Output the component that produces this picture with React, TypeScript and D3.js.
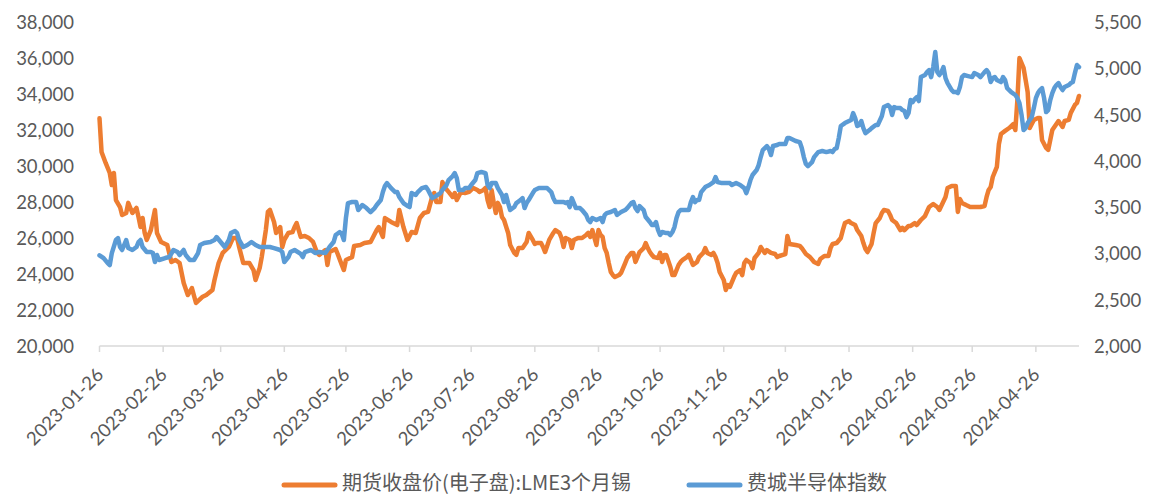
import React from 'react';
import * as d3 from 'd3';

// ---------- data ----------
const START_DATE = '2023-01-26';
const END_DATE = '2024-05-17';

// day offsets from START_DATE and values for LME 3-month tin (left axis)
const tinDays = [0,1,3,5,6,7,8,10,11,13,14,16,18,19,20,21,22,23,25,27,28,30,33,35,37,39,41,43,45,47,50,52,55,56,58,60,63,65,67,68,70,73,75,76,78,79,81,82,83,85,86,88,89,90,92,94,95,96,98,100,102,104,106,107,110,111,112,115,116,118,119,120,122,123,124,127,129,132,133,135,136,138,139,142,145,146,148,150,152,154,156,158,160,162,163,164,166,167,168,170,172,173,174,176,178,180,182,184,185,187,188,189,190,191,192,193,194,195,196,197,199,200,202,203,204,206,207,208,209,211,212,213,215,216,217,219,221,222,224,225,226,227,229,230,231,233,235,237,238,239,240,242,243,244,245,246,247,248,249,250,251,253,254,256,257,259,260,261,262,263,265,266,267,268,269,270,272,273,274,275,276,278,279,280,282,283,284,286,287,288,289,291,292,294,295,296,298,299,300,301,302,304,305,306,307,309,310,312,313,314,315,317,318,319,321,322,324,325,327,329,330,331,334,335,336,339,341,342,344,346,348,350,351,353,355,356,357,359,361,362,363,365,366,368,369,371,372,373,374,376,377,378,380,381,382,384,385,386,388,390,391,392,394,395,397,398,400,402,404,406,408,409,412,413,415,417,418,419,420,422,424,426,429,431,432,433,434,435,437,438,439,441,443,445,446,447,448,450,451,452,453,455,457,458,459,461,462,464,465,467,469,470,472,473,475,476,477];
const tinValues = [32650,30780,30170,29610,28940,29610,28110,27720,27280,27390,27950,27390,27670,27170,26610,27110,26280,25890,26440,27560,26280,25780,25610,24670,24780,24610,23500,22830,23220,22390,22720,22830,23110,23670,24610,25170,25500,26000,26000,25500,24610,24610,24220,23670,24330,24940,26440,27450,27560,26890,26280,26610,25500,25890,26280,26330,26610,26830,26060,26110,26000,25780,25170,25060,25330,24500,25220,25390,25110,24500,24220,24780,24890,24940,25560,25610,25720,25780,26000,26440,26610,26060,27110,26890,26720,27560,26610,25890,26330,26280,27110,27390,27450,28280,28500,28000,28000,29110,28830,28560,28280,28500,28110,28560,28500,28560,28780,28670,28560,28670,28780,28110,27720,28650,27950,27390,27950,27720,27170,27000,26280,25610,25170,25060,25440,25440,25610,25780,26280,25890,25670,25720,25720,25500,25220,25890,26280,26440,26280,26000,25500,26000,25890,25440,25890,26000,26000,26170,26280,26060,26440,25610,26440,26170,26060,25440,25170,24610,24110,23940,23830,23940,24060,24610,24890,25170,25170,24670,24940,25220,25440,25720,25440,25220,25060,24940,24890,25170,24670,25060,25060,24390,23940,23940,24500,24670,24780,24940,25060,24780,24500,24670,24940,25170,25440,25170,25060,25170,24940,24610,24110,23670,23110,23390,23280,23830,24060,24220,23940,24610,24780,24610,24330,24890,25170,25500,25170,25330,25170,25110,24940,25000,25110,26110,25670,25610,25560,25440,25110,24940,24670,24560,24830,25000,25000,25440,25670,25720,26000,26440,26830,26940,26830,26720,26440,26110,25720,25390,25220,25670,26280,26830,27110,27390,27560,27500,27280,27000,26830,26440,26560,26440,26670,26670,26830,26720,27000,27220,27720,27890,27720,27560,28280,28780,28890,28890,27450,28170,27950,27830,27720,27720,27720,27780,28280,28670,28830,29390,29950,31220,31780,31950,32110,32330,32000,33670,36000,35450,34780,34110,32110,32560,32670,32670,31450,31000,30890,32000,32170,32500,32170,32500,32560,32950,33390,33500,33890];

// day offsets from START_DATE and values for the Philadelphia Semiconductor Index (right axis)
const soxDays = [0,2,4,5,6,8,9,10,11,13,14,16,18,19,20,21,23,25,26,27,28,29,32,34,36,38,39,41,42,44,46,48,49,51,54,56,57,59,61,63,64,66,67,68,70,72,74,76,78,80,83,85,88,89,90,92,93,95,98,99,100,103,105,107,110,111,112,114,115,117,118,119,120,121,123,125,126,128,130,132,134,135,137,138,139,140,142,144,145,146,148,150,151,152,154,155,157,159,160,162,163,166,167,169,170,172,173,174,175,177,178,180,181,183,184,186,188,189,190,191,193,194,196,197,198,199,200,202,203,205,206,207,208,209,211,212,214,217,218,220,221,222,224,226,227,228,229,230,231,232,234,235,237,238,239,240,242,244,245,246,247,249,251,252,254,256,257,259,260,261,262,263,265,266,268,269,270,271,272,273,274,276,277,278,279,280,281,282,283,285,286,287,288,289,290,291,292,293,295,297,299,300,301,303,305,307,308,310,312,314,315,316,317,318,320,321,322,323,325,326,327,328,330,331,334,335,336,339,341,342,343,344,345,347,348,350,352,354,356,357,358,359,360,361,363,364,366,367,368,369,370,371,372,373,375,376,378,379,381,382,384,385,386,387,388,390,391,392,393,394,395,396,397,398,399,400,402,403,404,405,406,407,408,409,410,411,412,413,415,416,417,418,419,420,421,423,425,426,428,429,431,432,433,434,435,436,437,439,440,441,442,443,444,446,447,448,449,450,451,452,454,455,456,457,458,459,460,461,462,463,464,465,466,467,468,469,470,472,473,474,475,476,477];
const soxValues = [2980,2950,2896,2875,3004,3145,3166,3069,3037,3145,3058,3037,3069,3123,3145,3069,3015,3015,3004,2907,2983,2929,2950,2961,3037,3015,2983,3037,2983,2929,2929,3004,3091,3112,3123,3145,3177,3123,3069,3145,3220,3242,3220,3145,3069,3091,3123,3091,3069,3069,3069,3058,3037,3015,2907,2961,3015,3037,2994,2961,3015,3037,3004,3015,3004,3037,3069,3123,3199,3231,3210,3145,3382,3544,3555,3555,3469,3523,3490,3447,3490,3523,3577,3663,3728,3760,3706,3663,3663,3609,3544,3512,3501,3652,3631,3663,3706,3717,3685,3598,3609,3652,3685,3739,3793,3836,3868,3814,3685,3685,3706,3706,3739,3793,3868,3879,3868,3739,3706,3760,3760,3706,3631,3555,3631,3544,3469,3501,3544,3577,3598,3490,3544,3577,3652,3685,3706,3706,3706,3663,3598,3555,3555,3555,3544,3555,3501,3598,3544,3490,3490,3469,3415,3361,3339,3382,3361,3382,3339,3415,3436,3447,3469,3415,3447,3469,3490,3544,3555,3490,3458,3512,3469,3393,3339,3307,3307,3339,3253,3199,3231,3220,3220,3199,3231,3285,3382,3447,3469,3469,3469,3469,3555,3609,3555,3577,3577,3663,3717,3739,3771,3825,3771,3760,3760,3760,3739,3760,3739,3706,3652,3717,3793,3847,3901,3955,4041,4117,4160,4128,4063,4160,4171,4182,4182,4246,4246,4214,4203,4138,4041,3966,3944,3987,4041,4095,4106,4095,4106,4095,4128,4138,4246,4376,4408,4419,4441,4516,4462,4376,4387,4430,4354,4300,4333,4354,4387,4387,4484,4581,4603,4581,4495,4581,4570,4570,4549,4538,4473,4516,4657,4635,4668,4689,4646,4905,4927,4959,4981,4905,5013,5175,4959,4927,4959,5013,4894,4840,4765,4743,4743,4732,4797,4905,4927,4916,4905,4948,4927,4905,4959,4981,4948,4851,4894,4905,4873,4851,4905,4873,4786,4765,4743,4711,4678,4624,4500,4333,4354,4408,4473,4570,4678,4732,4765,4786,4678,4527,4549,4657,4732,4786,4819,4840,4797,4765,4797,4819,4840,4851,4948,5035,5013];

const leftTicks = [20000, 22000, 24000, 26000, 28000, 30000, 32000, 34000, 36000, 38000];
const rightTicks = [2000, 2500, 3000, 3500, 4000, 4500, 5000, 5500];
const xTickLabels = ['2023-01-26','2023-02-26','2023-03-26','2023-04-26','2023-05-26','2023-06-26','2023-07-26','2023-08-26','2023-09-26','2023-10-26','2023-11-26','2023-12-26','2024-01-26','2024-02-26','2024-03-26','2024-04-26'];
const seriesNames = ['期货收盘价(电子盘):LME3个月锡', '费城半导体指数'];
const seriesColors = ['#ED7D31', '#5B9BD5'];

type Pt = { date: Date; v: number };

export default function App() {
  const parse = d3.timeParse('%Y-%m-%d');
  const start = parse(START_DATE) as Date;
  const end = parse(END_DATE) as Date;

  const W = 1153, H = 495;
  const plotL = 99.5, plotR = 1079, plotT = 22, plotB = 346;

  const x = d3.scaleTime().domain([start, end]).range([plotL, plotR]);
  const yL = d3.scaleLinear().domain([20000, 38000]).range([plotB, plotT]);
  const yR = d3.scaleLinear().domain([2000, 5500]).range([plotB, plotT]);

  const tin: Pt[] = tinDays.map((d, i) => ({ date: d3.timeDay.offset(start, d), v: tinValues[i] }));
  const sox: Pt[] = soxDays.map((d, i) => ({ date: d3.timeDay.offset(start, d), v: soxValues[i] }));

  const lineL = d3.line<Pt>().x(d => x(d.date)).y(d => yL(d.v));
  const lineR = d3.line<Pt>().x(d => x(d.date)).y(d => yR(d.v));

  const fmt = d3.format(',');
  const font = "Lato, 'Noto Sans', sans-serif";
  const textColor = '#595959';
  const axisColor = '#d9d9d9';

  return (
    <svg width={W} height={H} style={{ position: 'absolute', left: 0, top: 0, background: '#fff' }}>
      {/* left axis labels */}
      {leftTicks.map(t => (
        <text key={'l' + t} x={74} y={yL(t)} textAnchor="end" dominantBaseline="central"
          fontFamily={font} fontSize={18.5} fill={textColor}>{fmt(t)}</text>
      ))}
      {/* right axis labels */}
      {rightTicks.map(t => (
        <text key={'r' + t} x={1094} y={yR(t)} textAnchor="start" dominantBaseline="central"
          fontFamily={font} fontSize={18.5} fill={textColor}>{fmt(t)}</text>
      ))}
      {/* x axis */}
      <line x1={plotL} x2={plotR} y1={plotB} y2={plotB} stroke={axisColor} strokeWidth={1.5} />
      {xTickLabels.map(s => {
        const tx = x(parse(s) as Date);
        return (
          <g key={s}>
            <line x1={tx} x2={tx} y1={plotB} y2={plotB + 6} stroke={axisColor} strokeWidth={1.5} />
            <text transform={`translate(${tx + 5},${plotB + 30}) rotate(-45)`} textAnchor="end"
              fontFamily={font} fontSize={18.5} fill={textColor}>{s}</text>
          </g>
        );
      })}
      {/* series */}
      <path d={lineL(tin) || ''} fill="none" stroke={seriesColors[0]} strokeWidth={4.5}
        strokeLinejoin="round" strokeLinecap="round" />
      <path d={lineR(sox) || ''} fill="none" stroke={seriesColors[1]} strokeWidth={4.5}
        strokeLinejoin="round" strokeLinecap="round" />
      {/* legend */}
      {seriesNames.map((name, i) => {
        const lx = i === 0 ? 284 : 689;
        return (
          <g key={name}>
            <line x1={lx} x2={lx + 51} y1={485} y2={485} stroke={seriesColors[i]} strokeWidth={5} strokeLinecap="round" />
            <text x={lx + 58} y={490} fontFamily="'Noto Sans CJK SC', sans-serif"
              fontSize={20} fill={textColor}>{name}</text>
          </g>
        );
      })}
    </svg>
  );
}
